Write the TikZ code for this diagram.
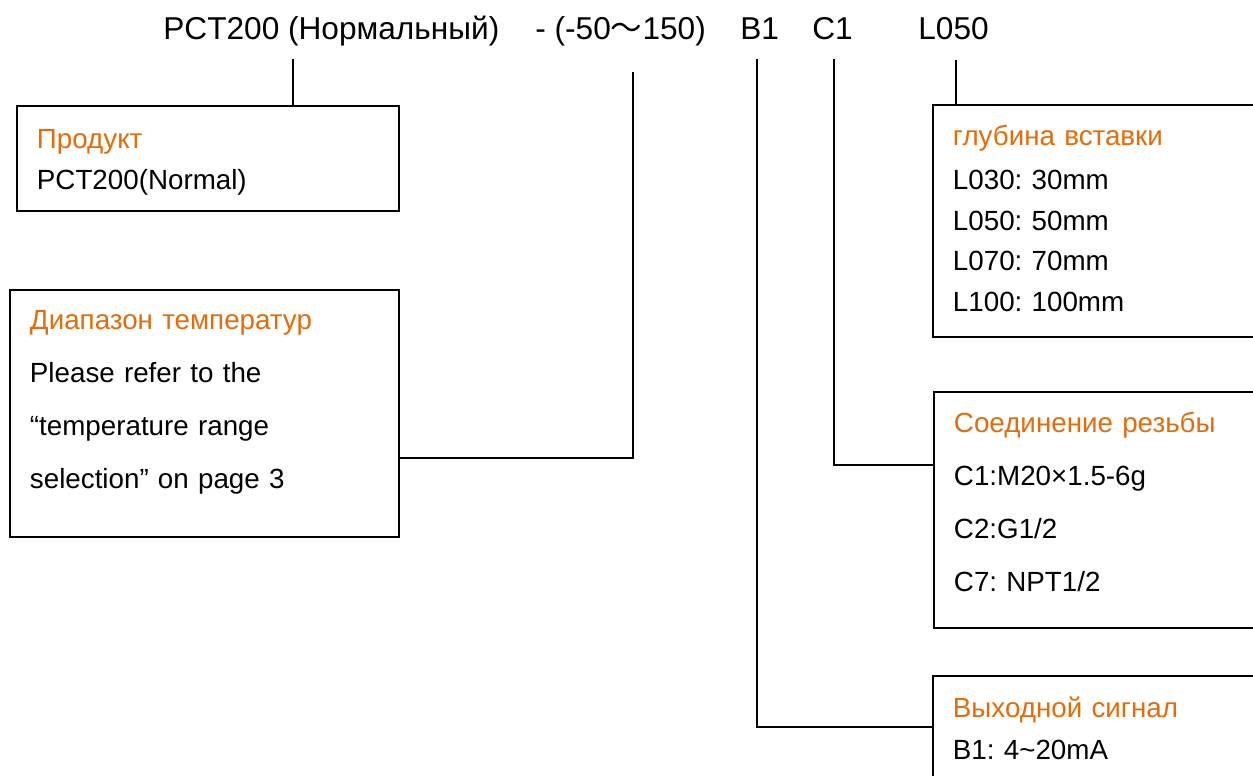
\documentclass[tikz,border=0pt]{standalone}
\usepackage{fontspec}
\setmainfont{Liberation Sans}
\newfontfamily\cjkfont{Noto Sans CJK SC}
\definecolor{hdorange}{RGB}{228,108,10}
\newcommand{\hd}[1]{\textcolor{hdorange}{#1}}
\frenchspacing

\tikzset{
  code/.style={anchor=base west, inner sep=0pt, font=\fontsize{18}{22}\selectfont},
  infobox/.style={draw, line width=1.1pt, anchor=north west, align=left,
    inner xsep=0.4cm, inner ysep=0pt, font=\fontsize{15.8}{23.2}\selectfont},
  widebox/.style={infobox, font=\fontsize{15.8}{30}\selectfont},
  pin/.style={line width=1.4pt},
  thinpin/.style={line width=1pt}
}

\begin{document}
\begin{tikzpicture}[x=0.02cm, y=-0.02cm]
  \clip (0,0) rectangle (1253,776);
  % order code
  \node[code] (pct) at (163,40) {PCT200 (Нормальный)};
  \node[code] (rng) at (535,40) {- (-50{\cjkfont ～}150)};
  \node[code] (b1) at (740,40) {B1};
  \node[code] (c1) at (812,40) {C1};
  \node[code] (l050) at (918,40) {L050};

  % option boxes
  \node[infobox, text width=6.84cm, text height=0.86cm, text depth=1.24cm] (prodbox) at (16,105)
    {\hd{Продукт}\\PCT200(Normal)};
  \node[widebox, text width=6.98cm, text height=0.8cm, text depth=4.14cm] (tempbox) at (9,289)
    {\hd{Диапазон температур}\\Please refer to the\\“temperature range\\selection” on page 3};
  \node[infobox, text width=7.2cm, text height=0.82cm, text depth=3.82cm] (depbox) at (932,104)
    {\hd{глубина вставки}\\[1.5pt]L030: 30mm\\L050: 50mm\\L070: 70mm\\L100: 100mm};
  \node[widebox, text width=7.2cm, text height=0.82cm, text depth=3.9cm] (thrbox) at (933,391)
    {\hd{Соединение резьбы}\\C1:M20×1.5-6g\\C2:G1/2\\C7: NPT1/2};
  \node[infobox, text width=7.2cm, text height=0.84cm, text depth=4cm] (sigbox) at (932,675)
    {\hd{Выходной сигнал}\\[0.6pt]B1: 4\textasciitilde20mA};

  % connectors
  \coordinate (pctpin) at (293,59);
  \draw[pin] (pctpin) -- (pctpin |- prodbox.north);
  \coordinate (rngpin) at (633,72);
  \coordinate (rngturn) at (633,458);
  \draw[thinpin] (rngpin) -- (rngturn) -- (rngturn -| tempbox.east);
  \coordinate (b1pin) at (757,59);
  \coordinate (b1turn) at (757,727);
  \draw[thinpin] (b1pin) -- (b1turn) -- (b1turn -| sigbox.west);
  \coordinate (c1pin) at (834,59);
  \coordinate (c1turn) at (834,465);
  \draw[pin] (c1pin) -- (c1turn) -- (c1turn -| thrbox.west);
  \coordinate (l050pin) at (956,60);
  \draw[pin] (l050pin) -- (l050pin |- depbox.north);
\end{tikzpicture}
\end{document}
